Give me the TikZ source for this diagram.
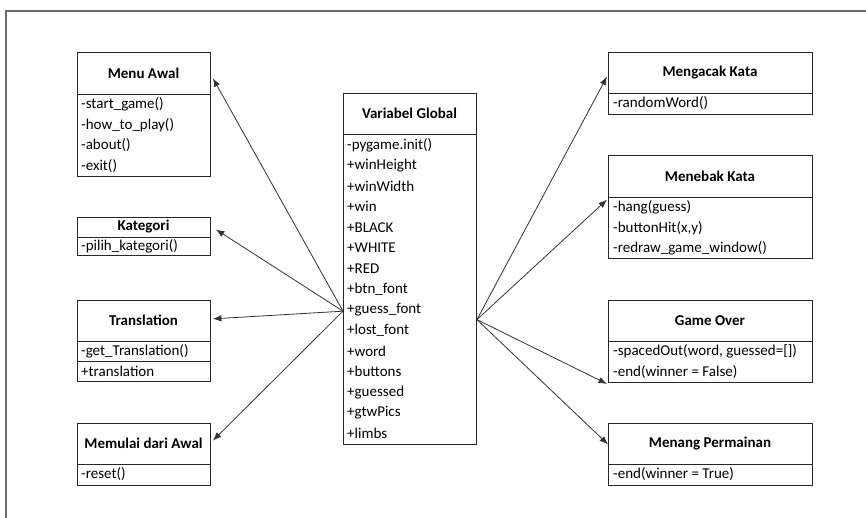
\documentclass[tikz,border=0pt]{standalone}
\usepackage{fontspec}
\setmainfont{Carlito}
\usetikzlibrary{arrows.meta,calc}
\begin{document}
\begin{tikzpicture}[x=1pt,y=-1pt,
  umlbox/.style={draw=black!85, line width=0.9pt, inner sep=0pt, anchor=north west},
  umltitle/.style={font=\bfseries\fontsize{15}{16}\selectfont, inner sep=0pt},
  umlrow/.style={font=\fontsize{15}{16}\selectfont, anchor=west, inner sep=0pt},
  umlsep/.style={draw=black!85, line width=0.9pt},
  link/.style={draw=black!80, line width=0.8pt, -{Latex[length=8.5pt,width=6.5pt]}},
  pageframe/.style={draw=black!58, line width=1.5pt}]
\useasboundingbox (0,0) rectangle (866,518);

% page frame
\draw[pageframe] (6,518) -- (6,11) -- (866,11);

% ---------- left column ----------
% Menu Awal
\node[umlbox, minimum width=133, minimum height=124] (menu) at (77,52) {};
\node[umltitle] (menuT) at (143.5,73) {Menu Awal};
\draw[umlsep] (77,94) -- (210,94);
\foreach \t [count=\i from 0] in {-start\_game(), -how\_to\_play(), -about(), -exit()}
  \node[umlrow] (menuR\i) at (81,104.5+20.5*\i) {\t};

% Kategori
\node[umlbox, minimum width=133, minimum height=38] (kat) at (77,217) {};
\node[umltitle] (katT) at (143.5,227) {Kategori};
\draw[umlsep] (77,237) -- (210,237);
\node[umlrow] (katR0) at (81,246.5) {-pilih\_kategori()};

% Translation
\node[umlbox, minimum width=133, minimum height=81] (tr) at (77,300) {};
\node[umltitle] (trT) at (143.5,320.5) {Translation};
\draw[umlsep] (77,341) -- (210,341);
\node[umlrow] (trR0) at (81,351.5) {-get\_Translation()};
\draw[umlsep] (77,361) -- (210,361);
\node[umlrow] (trR1) at (81,371.5) {+translation};

% Memulai dari Awal
\node[umlbox, minimum width=133, minimum height=62] (mul) at (77,423) {};
\node[umltitle] (mulT) at (143.5,443.5) {Memulai dari Awal};
\draw[umlsep] (77,464) -- (210,464);
\node[umlrow] (mulR0) at (81,474.5) {-reset()};

% ---------- centre ----------
\node[umlbox, minimum width=133, minimum height=351] (var) at (343,93) {};
\node[umltitle] (varT) at (409.5,113.5) {Variabel Global};
\draw[umlsep] (343,134) -- (476,134);
\foreach \t [count=\i from 0] in {-pygame.init(), +winHeight, +winWidth, +win, +BLACK,
    +WHITE, +RED, +btn\_font, +guess\_font, +lost\_font, +word, +buttons, +guessed,
    +gtwPics, +limbs}
  \node[umlrow] (varR\i) at (347,145+20.6*\i) {\t};

% ---------- right column ----------
% Mengacak Kata
\node[umlbox, minimum width=204, minimum height=62] (acak) at (608,52) {};
\node[umltitle] (acakT) at (710,72.5) {Mengacak Kata};
\draw[umlsep] (608,93) -- (812,93);
\node[umlrow] (acakR0) at (613,103.5) {-randomWord()};

% Menebak Kata
\node[umlbox, minimum width=204, minimum height=103] (tebak) at (608,155) {};
\node[umltitle] (tebakT) at (710,176) {Menebak Kata};
\draw[umlsep] (608,197) -- (812,197);
\foreach \t [count=\i from 0] in {-hang(guess), {-buttonHit(x,y)}, -redraw\_game\_window()}
  \node[umlrow] (tebakR\i) at (613,207.5+20.5*\i) {\t};

% Game Over
\node[umlbox, minimum width=204, minimum height=82] (over) at (608,300) {};
\node[umltitle] (overT) at (710,320.5) {Game Over};
\draw[umlsep] (608,341) -- (812,341);
\node[umlrow] (overR0) at (613,351.5) {-spacedOut(word, guessed=[])};
\node[umlrow] (overR1) at (613,372) {-end(winner = False)};

% Menang Permainan
\node[umlbox, minimum width=204, minimum height=62] (menang) at (608,423) {};
\node[umltitle] (menangT) at (710,443.5) {Menang Permainan};
\draw[umlsep] (608,464) -- (812,464);
\node[umlrow] (menangR0) at (613,474.5) {-end(winner = True)};

% ---------- associations ----------
\coordinate (srcL) at ($(var.north west)!0.62!(var.south west)$);
\coordinate (srcR) at ($(var.north east)!0.644!(var.south east)$);

\draw[link] (srcL) -- ($(menu.north east)!0.21!(menu.south east)+(2,0)$);
\draw[link] (srcL) -- ($(kat.north east)!0.32!(kat.south east)+(5,0)$);
\draw[link] (srcL) -- ($(tr.north east)!0.23!(tr.south east)+(2,0)$);
\draw[link] (srcL) -- ($(mul.north east)!0.28!(mul.south east)+(2,0)$);

\draw[link] (srcR) -- ($(acak.north west)!0.39!(acak.south west)+(-1,0)$);
\draw[link] (srcR) -- ($(tebak.north west)!0.43!(tebak.south west)+(-1,0)$);
\draw[link] (srcR) -- ($(over.south west)+(-1,1)$);
\draw[link] (srcR) -- ($(menang.north west)!0.34!(menang.south west)$);
\end{tikzpicture}
\end{document}
